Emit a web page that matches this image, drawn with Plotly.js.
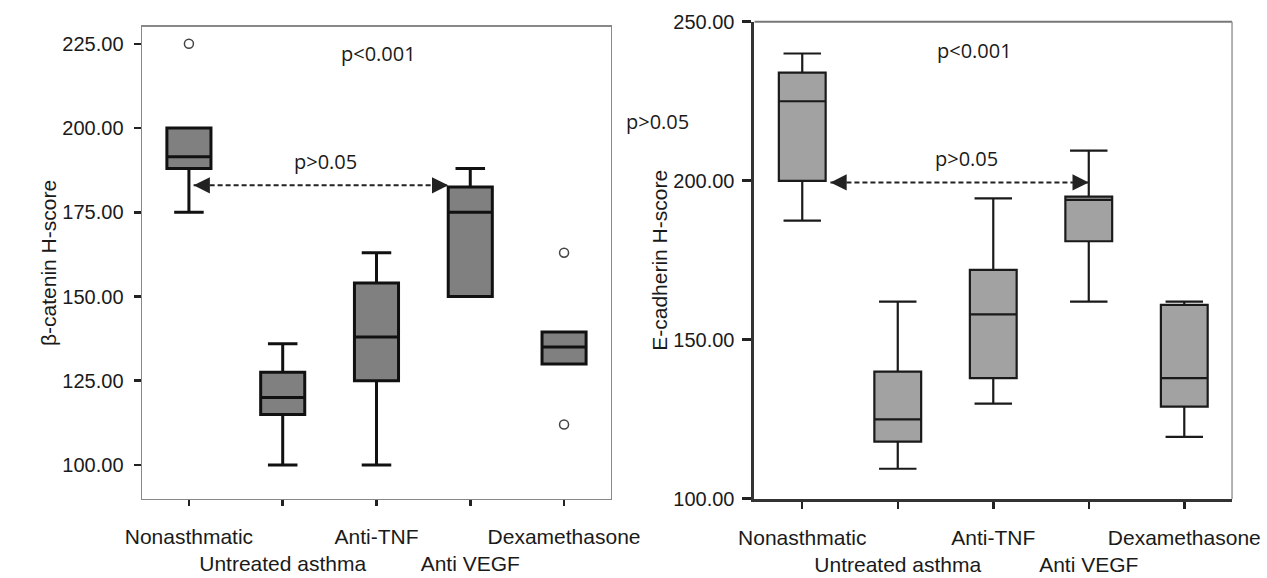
<!DOCTYPE html>
<html>
<head>
<meta charset="utf-8">
<script src="https://cdn.plot.ly/plotly-3.0.1.min.js"></script>
<style>
html,body{margin:0;padding:0;background:#fff;}
#chart{width:1267px;height:578px;}
</style>
</head>
<body>
<div id="chart"></div>
<script>
// ---- data ----
const categories = ['Nonasthmatic', 'Untreated asthma', 'Anti-TNF', 'Anti VEGF', 'Dexamethasone'];
const tickLabels = ['Nonasthmatic', '<br>Untreated asthma', 'Anti-TNF', '<br>Anti VEGF', 'Dexamethasone'];

// beta-catenin H-score (left panel)
const bcLower  = [175, 100, 100, 150, 130];
const bcQ1     = [188, 115, 125, 150, 130];
const bcMedian = [191.5, 120, 138, 175, 135];
const bcQ3     = [200, 127.5, 154, 182.5, 139.5];
const bcUpper  = [200, 136, 163, 188, 139.5];
const bcOutlierCat = ['Nonasthmatic', 'Dexamethasone', 'Dexamethasone'];
const bcOutlierVal = [225, 163, 112];
const bcTicks = [100, 125, 150, 175, 200, 225];

// E-cadherin H-score (right panel)
const ecLower  = [187.5, 109.5, 130, 162, 119.5];
const ecQ1     = [200, 118, 138, 181, 129];
const ecMedian = [225, 125, 158, 194, 138];
const ecQ3     = [234, 140, 172, 195, 161];
const ecUpper  = [240, 162, 194.5, 209.5, 162];
const ecTicks = [100, 150, 200, 250];

// comparisons drawn with dashed arrows
const bcCompare = {from: 'Nonasthmatic', to: 'Anti VEGF', value: 183};
const ecCompare = {from: 'Nonasthmatic', to: 'Anti VEGF', value: 199.5};

// ---- build ----
const pos = categories.map((c, i) => i);
const idx = c => categories.indexOf(c);

const bcWidth = 0.47, ecWidth = 0.49;
const textColor = '#1a1a1a';
const sans = 'Liberation Sans, Arial, sans-serif';
const tickFont = {family: sans, size: 20, color: textColor};
const xTickFont = {family: sans, size: 21, color: textColor};

const traces = [
  {
    type: 'box', xaxis: 'x', yaxis: 'y',
    x: pos, q1: bcQ1, median: bcMedian, q3: bcQ3,
    lowerfence: bcLower, upperfence: bcUpper,
    boxpoints: false, width: bcWidth, whiskerwidth: 0.67,
    fillcolor: '#808080', line: {color: '#111', width: 3},
    hoverinfo: 'skip', showlegend: false
  },
  {
    type: 'scatter', mode: 'markers', xaxis: 'x', yaxis: 'y',
    x: bcOutlierCat.map(idx), y: bcOutlierVal,
    marker: {symbol: 'circle-open', size: 9, color: '#444', line: {width: 1.5}},
    hoverinfo: 'skip', showlegend: false
  },
  {
    type: 'scatter', mode: 'lines', xaxis: 'x', yaxis: 'y',
    x: [idx(bcCompare.from) + 0.05, idx(bcCompare.to) - bcWidth / 2],
    y: [bcCompare.value, bcCompare.value],
    line: {color: '#222', width: 2, dash: '5px,3px'},
    hoverinfo: 'skip', showlegend: false
  },
  {
    type: 'box', xaxis: 'x2', yaxis: 'y2',
    x: pos, q1: ecQ1, median: ecMedian, q3: ecQ3,
    lowerfence: ecLower, upperfence: ecUpper,
    boxpoints: false, width: ecWidth, whiskerwidth: 0.8,
    fillcolor: '#a2a2a2', line: {color: '#1a1a1a', width: 2.2},
    hoverinfo: 'skip', showlegend: false
  },
  {
    type: 'scatter', mode: 'lines', xaxis: 'x2', yaxis: 'y2',
    x: [idx(ecCompare.from) + ecWidth / 2 + 0.05, idx(ecCompare.to)],
    y: [ecCompare.value, ecCompare.value],
    line: {color: '#222', width: 2, dash: '5px,3px'},
    hoverinfo: 'skip', showlegend: false
  }
];

function arrowHead(xref, yref, x, y, dir) {
  return {
    xref: xref, yref: yref, x: x, y: y, text: '', showarrow: true,
    ax: dir * 15, ay: 0, arrowhead: 2, arrowsize: 1.3, arrowwidth: 2.5,
    arrowcolor: '#222', standoff: 0
  };
}

const annFont = {family: 'Open Sans, sans-serif', size: 20, color: textColor};
const titleFont = {family: sans, size: 21, color: textColor};

const layout = {
  width: 1267, height: 578,
  margin: {l: 0, r: 0, t: 0, b: 0},
  paper_bgcolor: '#fff', plot_bgcolor: '#fff',
  showlegend: false,
  xaxis: {
    domain: [0.1121, 0.4822], range: [-0.5, 4.5],
    tickvals: pos, ticktext: tickLabels, tickfont: xTickFont, tickangle: 0,
    ticks: 'outside', ticklen: 6, tickwidth: 2.5, tickcolor: '#222',
    showline: true, linecolor: '#888', linewidth: 1.5, mirror: true,
    showgrid: false, zeroline: false, fixedrange: true, ticklabelstandoff: 12
  },
  yaxis: {
    domain: [0.1367, 0.9533], range: [89.9, 230],
    tickvals: bcTicks, tickformat: '.2f', tickfont: tickFont,
    ticks: 'outside', ticklen: 7, tickwidth: 2.5, tickcolor: '#222',
    showline: true, linecolor: '#888', linewidth: 1.5, mirror: true,
    showgrid: false, zeroline: false, fixedrange: true, ticklabelstandoff: 6,
    title: {text: 'β-catenin H-score', font: titleFont}
  },
  xaxis2: {
    anchor: 'y2',
    domain: [0.5955, 0.9724], range: [-0.5, 4.5],
    tickvals: pos, ticktext: tickLabels, tickfont: xTickFont, tickangle: 0,
    ticks: 'outside', ticklen: 7, tickwidth: 2.5, tickcolor: '#222',
    showline: true, linecolor: '#333', linewidth: 3,
    showgrid: false, zeroline: false, fixedrange: true, ticklabelstandoff: 11
  },
  yaxis2: {
    anchor: 'x2',
    domain: [0.1367, 0.9625], range: [100, 250],
    tickvals: ecTicks, tickformat: '.2f', tickfont: tickFont,
    ticks: 'outside', ticklen: 9, tickwidth: 3, tickcolor: '#222',
    showline: true, linecolor: '#333', linewidth: 3,
    showgrid: false, zeroline: false, fixedrange: true, ticklabelstandoff: 4,
    title: {text: 'E-cadherin H-score', font: titleFont}
  },
  shapes: [
    {type: 'line', xref: 'x2 domain', yref: 'y2 domain', x0: 0, x1: 1, y0: 1, y1: 1, line: {color: '#777', width: 2}},
    {type: 'line', xref: 'x2 domain', yref: 'y2 domain', x0: 1, x1: 1, y0: 0, y1: 1, line: {color: '#999', width: 1.5}}
  ],
  annotations: [
    {xref: 'x', yref: 'y', x: 2.02, y: 222, text: 'p<0.001', showarrow: false, font: annFont},
    {xref: 'x', yref: 'y', x: 1.46, y: 190, text: 'p>0.05', showarrow: false, font: annFont},
    {xref: 'x2', yref: 'y2', x: 1.8, y: 241, text: 'p<0.001', showarrow: false, font: annFont},
    {xref: 'x2', yref: 'y2', x: 1.72, y: 207, text: 'p>0.05', showarrow: false, font: annFont},
    {xref: 'paper', yref: 'paper', x: 0.519, y: 0.789, xanchor: 'center', yanchor: 'middle', text: 'p>0.05', showarrow: false, font: annFont},
    arrowHead('x', 'y', idx(bcCompare.from) + 0.05, bcCompare.value, 1),
    arrowHead('x', 'y', idx(bcCompare.to) - bcWidth / 2, bcCompare.value, -1),
    arrowHead('x2', 'y2', idx(ecCompare.from) + ecWidth / 2 + 0.05, ecCompare.value, 1),
    arrowHead('x2', 'y2', idx(ecCompare.to), ecCompare.value, -1)
  ]
};

Plotly.newPlot('chart', traces, layout, {staticPlot: true, displayModeBar: false});
</script>
</body>
</html>
